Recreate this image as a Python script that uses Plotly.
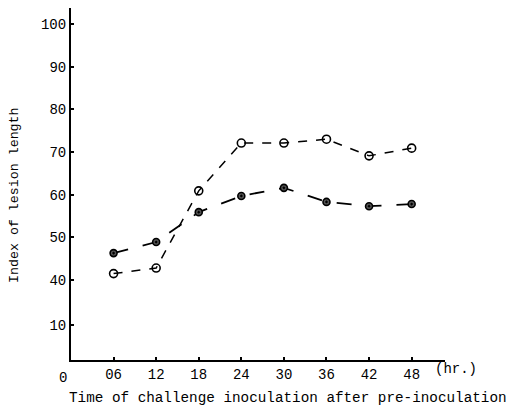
import plotly.graph_objects as go

hours = [6, 12, 18, 24, 30, 36, 42, 48]
open_series = [41.5, 42.8, 60.9, 72.1, 72.1, 73.0, 69.1, 70.9]
dot_series = [46.3, 48.9, 55.9, 59.7, 61.6, 58.3, 57.3, 57.8]
x_tick_vals = [6, 12, 18, 24, 30, 36, 42, 48]
x_tick_text = ["06", "12", "18", "24", "30", "36", "42", "48"]
# broken y axis: the "10" label sits just below 40
y_tick_vals = [29.45, 40, 50, 60, 70, 80, 90, 100]
y_tick_text = ["10", "40", "50", "60", "70", "80", "90", "100"]

FONT = "Liberation Mono"

fig = go.Figure()
fig.add_trace(go.Scatter(
    x=hours, y=open_series, mode="lines+markers",
    line=dict(color="black", width=1.5, dash="dash"),
    marker=dict(symbol="circle-open", size=8, color="black", line=dict(width=1.6)),
    showlegend=False))
fig.add_trace(go.Scatter(
    x=hours, y=dot_series, mode="lines+markers",
    line=dict(color="black", width=1.8, dash="longdash"),
    marker=dict(symbol="circle-dot", size=7, color="#555", line=dict(width=1.6, color="black")),
    showlegend=False))

fig.update_layout(
    width=512, height=407,
    margin=dict(l=63, r=75, t=0, b=55, pad=0),
    paper_bgcolor="white", plot_bgcolor="white",
    font=dict(family=FONT, color="black", size=14),
    xaxis=dict(range=[0, 52.7], showgrid=False, zeroline=False, automargin=False,
               showline=True, linecolor="black", linewidth=2,
               ticks="inside", ticklen=3, tickcolor="black", tickwidth=1.5,
               tickvals=x_tick_vals, ticktext=x_tick_text,
               tickfont=dict(size=14, family=FONT)),
    yaxis=dict(range=[21.25, 103.75], showgrid=False, zeroline=False, automargin=False,
               showline=True, linecolor="black", linewidth=2,
               ticks="inside", ticklen=3, tickcolor="black", tickwidth=1.5,
               tickvals=y_tick_vals, ticktext=y_tick_text,
               tickfont=dict(size=14, family=FONT)),
)
fig.add_annotation(x=-0.0214, y=-0.0511, xref="paper", yref="paper", text="0",
                   showarrow=False, xanchor="center", yanchor="middle",
                   font=dict(size=14, family=FONT))
fig.add_annotation(x=1.0294, y=-0.0256, xref="paper", yref="paper", text="(hr.)",
                   showarrow=False, xanchor="center", yanchor="middle",
                   font=dict(size=14, family=FONT))
fig.add_annotation(x=0.5802, y=-0.108, xref="paper", yref="paper",
                   text="Time of challenge inoculation after pre-inoculation",
                   showarrow=False, xanchor="center", yanchor="middle",
                   font=dict(size=14.3, family=FONT))
fig.add_annotation(x=-0.1497, y=0.4688, xref="paper", yref="paper",
                   text="Index of lesion length", textangle=-90,
                   showarrow=False, xanchor="center", yanchor="middle",
                   font=dict(size=13.3, family=FONT))

fig.write_html("out.html")
